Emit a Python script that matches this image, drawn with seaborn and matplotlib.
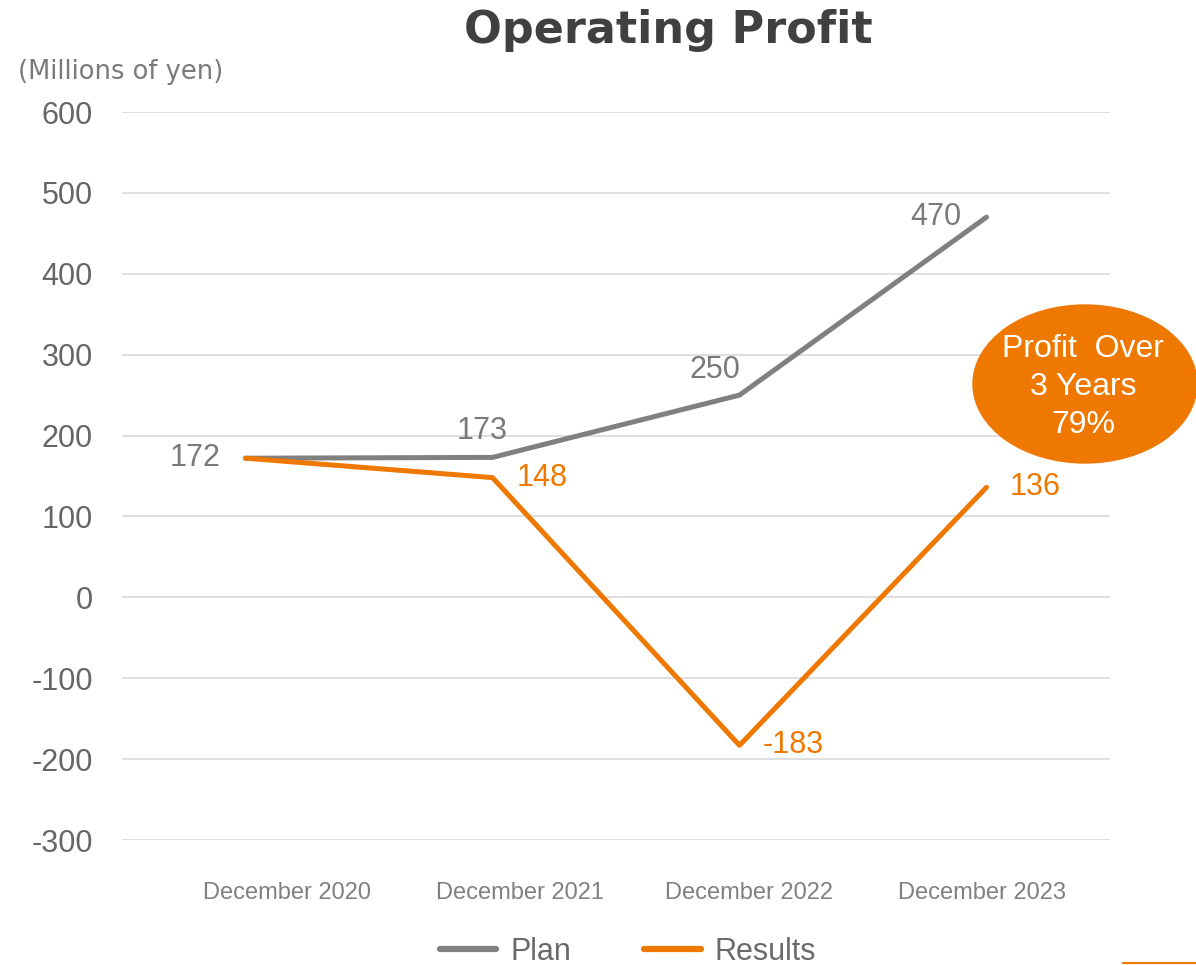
import matplotlib
matplotlib.use("Agg")
import matplotlib.pyplot as plt
import pandas as pd
import seaborn as sns
from matplotlib.lines import Line2D
from matplotlib.patches import Ellipse

# data
periods = ["December 2020", "December 2021", "December 2022", "December 2023"]
plan = [172, 173, 250, 470]
results = [172, 148, -183, 136]
plan_labels = ["172", "173", "250", "470"]
results_labels = [None, "148", "-183", "136"]
yticks = [-300, -200, -100, 0, 100, 200, 300, 400, 500, 600]
badge_text = "Profit  Over\n3 Years\n79%"

GRAY = "#808080"
ORANGE = "#EE7800"

sns.set_theme(style="white")
plt.rcParams["font.family"] = ["Liberation Sans", "DejaVu Sans"]

df = pd.DataFrame({
    "period": periods * 2,
    "value": plan + results,
    "series": ["Plan"] * 4 + ["Results"] * 4,
})

fig = plt.figure(figsize=(11.96, 9.65), dpi=100)
ax = fig.add_axes([122 / 1196, 1 - 840 / 965, 988 / 1196, 728 / 965])

sns.lineplot(data=df, x="period", y="value", hue="series", sort=False,
             palette={"Plan": GRAY, "Results": ORANGE}, linewidth=3.6,
             legend=False, ax=ax)

ax.set_xlim(-0.5, 3.5)
ax.set_ylim(-300, 600)
ax.set_yticks(yticks)
ax.set_yticklabels([str(v) for v in yticks])
# the original's category labels sit a little off the data points
ax.set_xticks([0.17, 1.11, 2.04, 2.98])
ax.set_xticklabels(periods)
ax.grid(axis="y", color="#d9d9d9", linewidth=1.2)
ax.set_axisbelow(True)
for s in ax.spines.values():
    s.set_visible(False)
ax.tick_params(axis="y", length=0, pad=21, labelsize=22, labelcolor="#666666")
ax.tick_params(axis="x", length=0, pad=30, labelsize=17, labelcolor=GRAY)
ax.set_xlabel("")
ax.set_ylabel("")

# data labels
plan_off = [(-50, 0), (-10, 26), (-25, 25), (-51, 0)]
res_off = [None, (50, 0), (54, 0), (49, 0)]
for i, (v, lab) in enumerate(zip(plan, plan_labels)):
    ax.annotate(lab, (i, v), xytext=plan_off[i], textcoords="offset pixels",
                ha="center", va="center", fontsize=22, color="#7a7a7a")
for i, (v, lab) in enumerate(zip(results, results_labels)):
    if lab is None:
        continue
    ax.annotate(lab, (i, v), xytext=res_off[i], textcoords="offset pixels",
                ha="center", va="center", fontsize=22, color=ORANGE)

# badge
fig.add_artist(Ellipse((1085 / 1196, 1 - 384 / 965), 224 / 1196, 158 / 965,
                       transform=fig.transFigure, color=ORANGE, zorder=5))
fig.text(1083 / 1196, 1 - 387 / 965, badge_text, ha="center", va="center",
         fontsize=23, color="white", linespacing=1.35, zorder=6)

fig.text(668 / 1196, 1 - 30 / 965, "Operating Profit", ha="center", va="center",
         fontsize=32, fontweight="bold", color="#404040",
         family=["DejaVu Sans"])
fig.text(18 / 1196, 1 - 72 / 965, "(Millions of yen)", ha="left", va="center",
         fontsize=18.5, color="#7a7a7a", family=["DejaVu Sans"])

handles = [Line2D([], [], color=GRAY, lw=4.5, solid_capstyle="round"),
           Line2D([], [], color=ORANGE, lw=4.5, solid_capstyle="round")]
fig.legend(handles, ["Plan", "Results"], loc="center",
           bbox_to_anchor=(628 / 1196, 1 - 952 / 965), ncol=2, frameon=False,
           fontsize=22, labelcolor="#6a6a6a", handlelength=1.85,
           handletextpad=0.45, columnspacing=2.4)

fig.add_artist(Line2D([1123 / 1196, 1], [1 - 963 / 965] * 2, color=ORANGE,
                      lw=1.5, transform=fig.transFigure))

fig.savefig("out.png", dpi=100)
